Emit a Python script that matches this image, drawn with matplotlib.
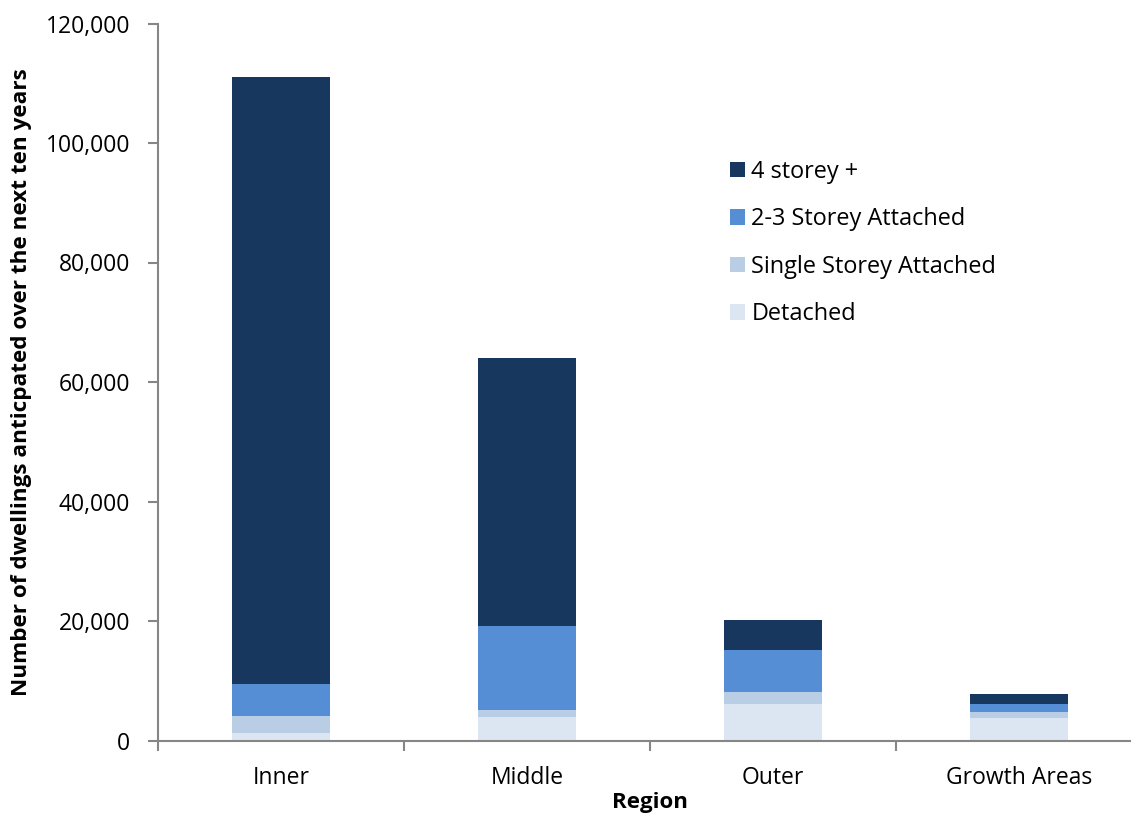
import matplotlib.pyplot as plt
import numpy as np
from matplotlib.ticker import FuncFormatter

regions = ['Inner', 'Middle', 'Outer', 'Growth Areas']
detached = [1200, 3900, 6100, 3800]
single_storey = [2900, 1200, 2100, 900]
two_three_storey = [5400, 14000, 7000, 1350]
four_storey = [101500, 45000, 5000, 1800]

series = [
    ('Detached', detached, '#DCE6F2'),
    ('Single Storey Attached', single_storey, '#B9CDE5'),
    ('2-3 Storey Attached', two_three_storey, '#558ED5'),
    ('4 storey +', four_storey, '#17375E'),
]

plt.rcParams['font.family'] = ['Open Sans', 'DejaVu Sans']

fig = plt.figure(figsize=(11.31, 8.14), dpi=100)
ax = fig.add_axes([158 / 1131, 1 - 740.5 / 814, (1142 - 158) / 1131, (740.5 - 23.5) / 814])

x = np.arange(len(regions))
bottom = np.zeros(len(regions))
handles = {}
for name, vals, col in series:
    b = ax.bar(x, vals, width=0.4, bottom=bottom, color=col, label=name)
    handles[name] = b
    bottom += np.array(vals)

ax.set_xlim(-0.5, 3.5)
ax.set_ylim(0, 120000)
ax.set_yticks(range(0, 120001, 20000))
ax.yaxis.set_major_formatter(FuncFormatter(lambda v, p: f'{int(v):,}'))
ax.set_xticks(x)
ax.set_xticklabels(regions)
ax.set_xticks(np.arange(-0.5, 4, 1), minor=True)
ax.tick_params(axis='x', which='major', length=0, labelsize=16.5, pad=18)
ax.tick_params(axis='x', which='minor', length=7, color='#868686', width=1.5, direction='out')
ax.tick_params(axis='y', length=7, color='#868686', width=1.5, labelsize=16.5, pad=13)

for s in ['top', 'right']:
    ax.spines[s].set_visible(False)
for s in ['left', 'bottom']:
    ax.spines[s].set_color('#868686')
    ax.spines[s].set_linewidth(1.5)

ax.set_xlabel('Region', fontsize=16, fontweight='bold', labelpad=2)
ax.set_ylabel('Number of dwellings anticpated over the next ten years', fontsize=16.2,
              fontweight='bold', labelpad=10)

order = ['4 storey +', '2-3 Storey Attached', 'Single Storey Attached', 'Detached']
ax.legend([handles[n] for n in order], order, loc='upper left', bbox_to_anchor=(0.572, 0.823),
          frameon=False, fontsize=16.9, handlelength=0.65, handleheight=0.65,
          handletextpad=0.25, labelspacing=1.0, borderaxespad=0)

fig.savefig('out.png', dpi=100)
